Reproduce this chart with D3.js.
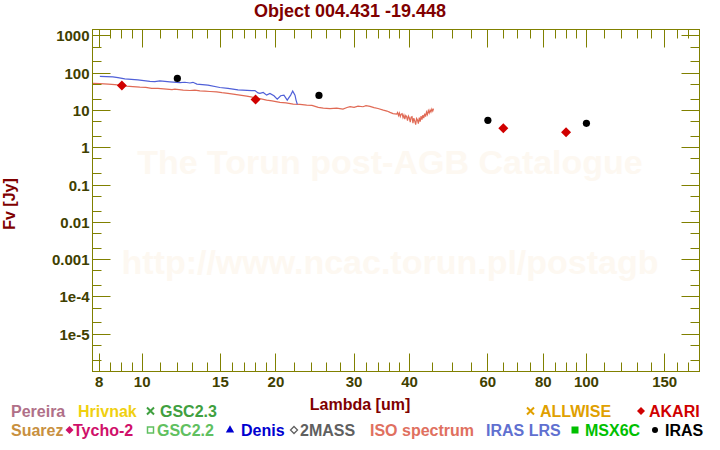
<!DOCTYPE html>
<html><head><meta charset="utf-8">
<script src="https://cdn.jsdelivr.net/npm/d3@7"></script>
<style>html,body{margin:0;padding:0;background:#fff;}svg{display:block;font-family:"Liberation Sans",Arial,sans-serif;font-weight:bold;}</style>
</head><body>
<script>
const titleText = "Object 004.431 -19.448";
const xLabelText = "Lambda [um]";
const yLabelText = "Fv [Jy]";
const watermark = ["The Torun post-AGB Catalogue", "http://www.ncac.torun.pl/postagb"];

// ISO spectrum
const isoWave = [7.73,8.03,8.38,8.68,9.00,9.22,9.53,9.88,10.19,10.50,10.85,11.35,11.67,11.85,12.37,12.81,13.14,13.49,13.84,14.21,14.71,15.12,15.60,16.03,16.60,17.19,17.57,17.94,18.41,19.06,19.60,20.42,21.07,21.88,22.66,23.46,24.11,24.91,25.57,26.47,27.41,28.31,28.91,29.37,29.99,30.61,31.41,31.90,32.57,33.25,33.95,34.90,35.57,36.14,36.70,
  37.41,37.58,37.76,37.93,38.11,38.29,38.47,38.65,38.83,39.01,39.20,39.38,39.56,39.75,39.94,40.13,40.31,40.50,40.69,40.88,41.08,41.27,41.46,41.66,41.85,42.05,42.25,42.44,42.64,42.84,43.04,43.24,43.45,43.65,43.85,44.06,44.27,44.47,44.67,44.88,45.09,45.28];
const isoFlux = [53.2,52.5,50.9,49.4,47.0,45.0,43.6,42.3,41.8,39.1,39.3,37.4,36.1,37.4,35.2,34.3,35.0,33.7,32.9,32.3,31.5,30.0,28.9,27.5,25.8,24.3,23.1,21.9,20.7,19.0,18.1,16.5,16.0,14.8,14.5,13.9,13.7,12.1,11.6,11.2,11.5,10.9,12.0,12.6,12.1,13.1,12.6,13.4,12.9,11.9,11.3,10.2,9.64,8.89,8.26,
  8.01,8.79,7.30,8.52,6.86,8.01,8.26,6.45,7.53,5.89,7.30,6.86,5.37,7.08,6.26,4.89,6.66,6.86,4.60,6.26,5.20,4.19,6.07,5.53,4.46,6.45,5.04,7.08,5.71,7.53,6.26,8.26,6.86,9.06,7.77,9.94,8.52,10.25,9.06,10.90,9.64,11.24];

// IRAS LRS spectrum
const lrsWave = [8.03,8.59,8.82,9.14,9.78,10.41,10.68,10.96,11.25,11.54,12.16,12.48,12.81,13.01,13.28,14.06,14.96,15.60,16.43,17.64,17.94,18.23,18.41,18.73,19.06,19.39,19.80,20.14,20.50,20.85,21.21,21.59,21.82,22.08,22.20,22.35];
const lrsFlux = [81.8,79.9,76.0,70.2,66.0,60.1,59.4,62.0,60.5,58.7,55.8,57.2,54.5,56.9,50.9,47.9,41.3,39.1,35.8,34.1,34.1,29.6,28.7,30.5,25.8,28.7,24.8,20.2,24.8,25.8,19.0,25.8,33.1,25.8,19.0,14.6];

// Photometry
const akariWave = [9, 18, 65, 90];
const akariFlux = [47.0, 19.8, 3.32, 2.59];
const irasWave = [12, 25, 60, 100];
const irasFlux = [72.3, 25.4, 5.43, 4.51];

// Axis ticks
const xTickLabels = [8, 10, 15, 20, 30, 40, 60, 80, 100, 150];
const xMinorTicks = [8.5,9,9.5,11,12,13,14,16,17,18,19,22,24,26,28,32,34,36,38,45,50,55,65,70,75,85,90,95,110,120,130,140,160,170];
const yTickValues = [1000,100,10,1,0.1,0.01,0.001,1e-4,1e-5];
const yTickLabels = ["1000","100","10","1","0.1","0.01","0.001","1e-4","1e-5"];
const yMinorTicks = [500,200,50,20,5,2,0.5,0.2,0.05,0.02,0.005,0.002,5e-4,2e-4,5e-5,2e-5,5e-6,2e-6];

// Legend
const legendRow1 = [
  {text:"Pereira", x:11, color:"#b07088", sym:null},
  {text:"Hrivnak", x:78, color:"#f0d010", sym:null},
  {text:"GSC2.3", x:160, color:"#40a040", sym:"cross", sx:150.5},
  {text:"ALLWISE", x:540, color:"#e0a000", sym:"cross", sx:530.5},
  {text:"AKARI", x:649, color:"#d00000", sym:"diamond", sx:641}
];
const legendRow2 = [
  {text:"Suarez", x:11, color:"#c89040", sym:null},
  {text:"Tycho-2", x:73, color:"#d0106a", sym:"diamond", sx:69.5},
  {text:"GSC2.2", x:157, color:"#60c060", sym:"square-open", sx:150.5},
  {text:"Denis", x:241, color:"#0000d0", sym:"triangle", sx:230},
  {text:"2MASS", x:300, color:"#606060", sym:"diamond-open", sx:294},
  {text:"ISO spectrum", x:370, color:"#e07060", sym:null},
  {text:"IRAS LRS", x:486, color:"#6070d0", sym:null},
  {text:"MSX6C", x:585, color:"#00c000", sym:"square", sx:575},
  {text:"IRAS", x:665, color:"#000000", sym:"circle", sx:655}
];

const W = 720, H = 450;
const pLeft = 92.5, pRight = 699.5, pTop = 29.5, pBottom = 371.5;
const olive = "#808000", tickText = "#404000", darkRed = "#800000";

const svg = d3.select("body").append("svg").attr("width", W).attr("height", H);
const x = d3.scaleLog().domain([7.73, 179.7]).range([pLeft, pRight]);
const y = d3.scaleLog().domain([1e-6, 1484]).range([pBottom, pTop]);

// watermark
svg.append("g").selectAll("text").data(watermark).join("text")
  .attr("x", 390).attr("y", (d,i) => i === 0 ? 174 : 274)
  .attr("text-anchor", "middle").attr("font-size", 34).attr("fill", "#fdf8f1")
  .text(d => d);

// title
svg.append("text").attr("x", 350).attr("y", 17).attr("text-anchor", "middle")
  .attr("font-size", 18).attr("fill", darkRed).text(titleText);

// clip
svg.append("clipPath").attr("id", "clip").append("rect")
  .attr("x", pLeft).attr("y", pTop).attr("width", pRight - pLeft).attr("height", pBottom - pTop);
const plot = svg.append("g").attr("clip-path", "url(#clip)");

const line = d3.line().x(d => x(d[0])).y(d => y(d[1]));
plot.append("path").datum(isoWave.map((w,i) => [w, isoFlux[i]]))
  .attr("d", line).attr("fill", "none").attr("stroke", "#e06a55").attr("stroke-width", 1.2);
plot.append("path").datum(lrsWave.map((w,i) => [w, lrsFlux[i]]))
  .attr("d", line).attr("fill", "none").attr("stroke", "#5060d8").attr("stroke-width", 1.2);

const diamondPath = r => `M0,${-r}L${r},0L0,${r}L${-r},0Z`;
plot.selectAll(".ak").data(akariWave.map((w,i) => [w, akariFlux[i]])).join("path")
  .attr("transform", d => `translate(${x(d[0])},${y(d[1])})`)
  .attr("d", diamondPath(5)).attr("fill", "#d00000");
plot.selectAll(".ir").data(irasWave.map((w,i) => [w, irasFlux[i]])).join("circle")
  .attr("cx", d => x(d[0])).attr("cy", d => y(d[1])).attr("r", 3.6).attr("fill", "#000");

// frame and ticks
const axes = svg.append("g").attr("stroke", olive).attr("stroke-width", 1).attr("fill", "none");
axes.append("rect").attr("x", pLeft).attr("y", pTop).attr("width", pRight - pLeft).attr("height", pBottom - pTop);
function xt(v, len) {
  const px = Math.round(x(v) - 0.5) + 0.5;
  axes.append("line").attr("x1", px).attr("x2", px).attr("y1", pBottom).attr("y2", pBottom - len);
  axes.append("line").attr("x1", px).attr("x2", px).attr("y1", pTop).attr("y2", pTop + len);
}
function yt(v, len) {
  const py = Math.round(y(v) - 0.5) + 0.5;
  axes.append("line").attr("x1", pLeft).attr("x2", pLeft + len).attr("y1", py).attr("y2", py);
  axes.append("line").attr("x1", pRight).attr("x2", pRight - len).attr("y1", py).attr("y2", py);
}
xTickLabels.forEach(v => xt(v, 18));
xMinorTicks.forEach(v => xt(v, 9));
yTickValues.forEach(v => yt(v, 18));
yMinorTicks.forEach(v => yt(v, 9));

svg.append("g").selectAll("text").data(xTickLabels).join("text")
  .attr("x", d => x(d)).attr("y", 386.5).attr("text-anchor", "middle")
  .attr("font-size", 15).attr("fill", tickText).text(d => d);
svg.append("g").selectAll("text").data(yTickValues).join("text")
  .attr("x", 89.5).attr("y", d => y(d) + 5.5).attr("text-anchor", "end")
  .attr("font-size", 15).attr("fill", tickText).text((d,i) => yTickLabels[i]);

svg.append("text").attr("x", 360).attr("y", 409.5).attr("text-anchor", "middle")
  .attr("font-size", 16).attr("fill", darkRed).text(xLabelText);
svg.append("text").attr("transform", "translate(14.5,204) rotate(-90)").attr("text-anchor", "middle")
  .attr("font-size", 16).attr("fill", darkRed).text(yLabelText);

// legend
function drawSym(g, s, cx, cy, color) {
  if (s === "cross") {
    g.append("path").attr("d", `M${cx-3.5},${cy-3.5}L${cx+3.5},${cy+3.5}M${cx-3.5},${cy+3.5}L${cx+3.5},${cy-3.5}`)
      .attr("stroke", color).attr("stroke-width", 2);
  } else if (s === "diamond") {
    g.append("path").attr("transform", `translate(${cx},${cy})`).attr("d", diamondPath(4)).attr("fill", color);
  } else if (s === "diamond-open") {
    g.append("path").attr("transform", `translate(${cx},${cy})`).attr("d", diamondPath(3.5)).attr("fill", "none").attr("stroke", color).attr("stroke-width", 1.3);
  } else if (s === "square-open") {
    g.append("rect").attr("x", cx-3).attr("y", cy-3).attr("width", 6).attr("height", 6).attr("fill", "none").attr("stroke", color).attr("stroke-width", 1.5);
  } else if (s === "square") {
    g.append("rect").attr("x", cx-3.5).attr("y", cy-3.5).attr("width", 7).attr("height", 7).attr("fill", color);
  } else if (s === "triangle") {
    g.append("path").attr("transform", `translate(${cx},${cy})`).attr("d", d3.symbol().type(d3.symbolTriangle).size(30)).attr("fill", color);
  } else if (s === "circle") {
    g.append("circle").attr("cx", cx).attr("cy", cy).attr("r", 3).attr("fill", color);
  }
}
const lg = svg.append("g");
[[legendRow1, 416.5], [legendRow2, 435.5]].forEach(([row, by]) => {
  row.forEach(it => {
    lg.append("text").attr("x", it.x).attr("y", by).attr("font-size", 16).attr("fill", it.color).text(it.text);
    if (it.sym) drawSym(lg, it.sym, it.sx, by - 5.5, it.color);
  });
});
</script>
</body></html>
